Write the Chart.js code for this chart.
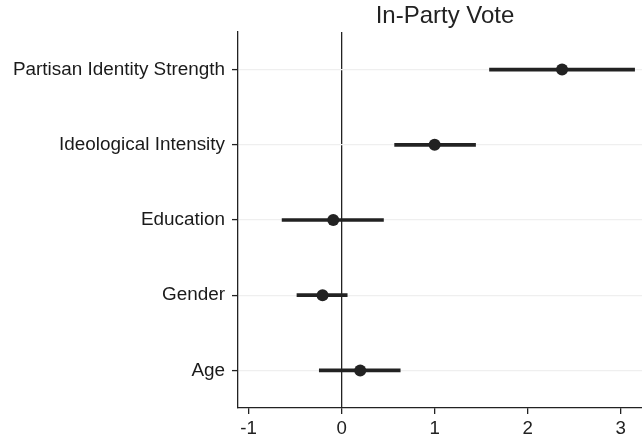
<!DOCTYPE html>
<html>
<head>
<meta charset="utf-8">
<script src="https://cdn.jsdelivr.net/npm/chart.js@4/dist/chart.umd.min.js"></script>
<style>
html,body{margin:0;padding:0;overflow:hidden;background:#fff;width:642px;height:437px;}
#wrap{width:658px;height:437px;}
</style>
</head>
<body>
<div id="wrap"><canvas id="c" width="658" height="437"></canvas></div>
<script>
const categories = ["Partisan Identity Strength", "Ideological Intensity", "Education", "Gender", "Age"];
const estimates = [2.37, 1.00, -0.09, -0.205, 0.20];
const lower = [1.59, 0.57, -0.64, -0.48, -0.24];
const upper = [3.15, 1.44, 0.45, 0.06, 0.63];
const xTickValues = [-1, 0, 1, 2, 3];
const titleText = "In-Party Vote";

const ink = '#222222';
const fontFamily = '"Liberation Sans", Arial, Helvetica, sans-serif';

new Chart(document.getElementById('c'), {
  type: 'bar',
  data: {
    labels: categories,
    datasets: [
      {
        type: 'line',
        data: estimates,
        showLine: false,
        pointRadius: 6,
        pointHoverRadius: 6,
        pointBackgroundColor: ink,
        pointBorderColor: ink,
        pointBorderWidth: 0,
        order: 0
      },
      {
        type: 'bar',
        data: lower.map((l, i) => [l, upper[i]]),
        backgroundColor: ink,
        borderWidth: 0,
        barThickness: 3,
        order: 1
      }
    ]
  },
  options: {
    indexAxis: 'y',
    responsive: false,
    animation: false,
    devicePixelRatio: 1,
    layout: { padding: { left: 0, right: 1, top: 0, bottom: 0 } },
    plugins: {
      legend: { display: false },
      tooltip: { enabled: false },
      title: {
        display: true,
        text: titleText,
        fullSize: false,
        color: ink,
        font: { family: fontFamily, size: 24, weight: 'normal', lineHeight: 1.2 },
        padding: { top: 1.6, bottom: 1.6 }
      }
    },
    scales: {
      x: {
        type: 'linear',
        min: -1.114,
        max: 3.337,
        afterBuildTicks: (axis) => { axis.ticks = xTickValues.map(v => ({ value: v })); },
        afterFit: (axis) => { axis.height = 29; },
        border: { display: true, color: ink, width: 1.3 },
        grid: {
          drawOnChartArea: true,
          drawTicks: true,
          tickLength: 6,
          tickColor: ink,
          tickWidth: 1.3,
          color: (ctx) => (ctx.tick && ctx.tick.value === 0) ? ink : 'rgba(0,0,0,0)',
          lineWidth: 1.3
        },
        ticks: {
          color: ink,
          padding: 4,
          font: { family: fontFamily, size: 18.7 },
          callback: (v) => String(v)
        }
      },
      y: {
        type: 'category',
        offset: true,
        afterFit: (axis) => { axis.width = 238; },
        border: { display: true, color: ink, width: 1.3 },
        grid: {
          offset: false,
          drawTicks: true,
          tickLength: 6,
          tickColor: ink,
          tickWidth: 1.3,
          color: '#efefef',
          lineWidth: 1.2
        },
        ticks: {
          color: '#1a1a1a',
          padding: 7,
          font: { family: fontFamily, size: 18.9 }
        }
      }
    }
  }
});
</script>
</body>
</html>
